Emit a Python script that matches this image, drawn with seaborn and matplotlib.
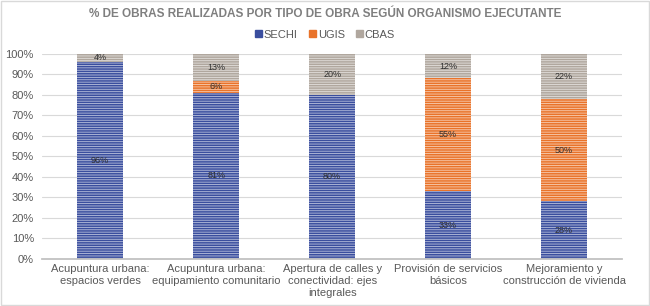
import numpy as np
import pandas as pd
import matplotlib
matplotlib.use("Agg")
import matplotlib.pyplot as plt
import seaborn as sns

# data (percent of works per executing body)
categories = [
    "Acupuntura urbana:\nespacios verdes",
    "Acupuntura urbana:\nequipamiento comunitario",
    "Apertura de calles y\nconectividad: ejes\nintegrales",
    "Provisión de servicios\nbásicos",
    "Mejoramiento y\nconstrucción de vivienda",
]
sechi = [96, 81, 80, 33, 28]
ugis = [0, 6, 0, 55, 50]
cbas = [4, 13, 20, 12, 22]
series_names = ["SECHI", "UGIS", "CBAS"]
colors = ["#3a4e9e", "#e9732a", "#b0a79e"]

sns.set_theme(style="white")
plt.rcParams["font.family"] = ["Liberation Sans", "DejaVu Sans"]
plt.rcParams["hatch.linewidth"] = 0.6

df = pd.DataFrame({"cat": categories, "SECHI": sechi, "UGIS": ugis, "CBAS": cbas})

fig = plt.figure(figsize=(6.5, 3.06), dpi=100)
ax = fig.add_axes([0.065, 0.154, 0.892, 0.67])

bottom = np.zeros(len(categories))
for name, col in zip(series_names, colors):
    sns.barplot(data=df, x="cat", y=name, color=col, width=0.4, bottom=bottom,
                ax=ax, saturation=1, label=name)
    vals = df[name].values
    for i, v in enumerate(vals):
        if v > 0:
            ax.text(i, bottom[i] + v / 2, f"{v}%", ha="center", va="center",
                    fontsize=6.5, color="#303030", zorder=5)
    bottom = bottom + vals

# horizontal line pattern like the original (hatch density is 6 lines per dash per inch)
for p in ax.patches:
    p.set_hatch("-" * 7)
    p.set_edgecolor((1, 1, 1, 0.65))
    p.set_linewidth(0)

if ax.legend_ is not None:
    ax.legend_.remove()

ax.set_ylim(0, 100)
ax.set_yticks(range(0, 101, 10))
ax.set_yticklabels([f"{t}%" for t in range(0, 101, 10)], fontsize=8, color="#595959")
ax.set_xlabel("")
ax.set_ylabel("")
ax.tick_params(axis="x", labelsize=8, colors="#595959", length=0, pad=4)
ax.tick_params(axis="y", length=0, pad=6)
ax.grid(axis="y", color="#d9d9d9", linewidth=0.8)
ax.set_axisbelow(True)
for s in ["top", "right", "left"]:
    ax.spines[s].set_visible(False)
ax.spines["bottom"].set_color("#bfbfbf")
ax.set_xlim(-0.5, 4.5)

handles = [plt.Rectangle((0, 0), 1, 1, color=c) for c in colors]
fig.legend(handles, series_names, loc="center", bbox_to_anchor=(0.5, 0.886),
           ncol=3, frameon=False, fontsize=8, handlelength=0.6, handleheight=0.6,
           handletextpad=0.2, columnspacing=1.0, labelcolor="#595959")

fig.text(0.5, 0.954, "% DE OBRAS REALIZADAS POR TIPO DE OBRA SEGÚN ORGANISMO EJECUTANTE",
         ha="center", va="center", fontsize=8.5, color="#7f7f7f", fontweight="bold")

fig.patches.append(plt.Rectangle((0.002, 0.003), 0.996, 0.994, transform=fig.transFigure,
                                 fill=False, edgecolor="#d9d9d9", linewidth=1))

fig.savefig("out.png", dpi=100)
